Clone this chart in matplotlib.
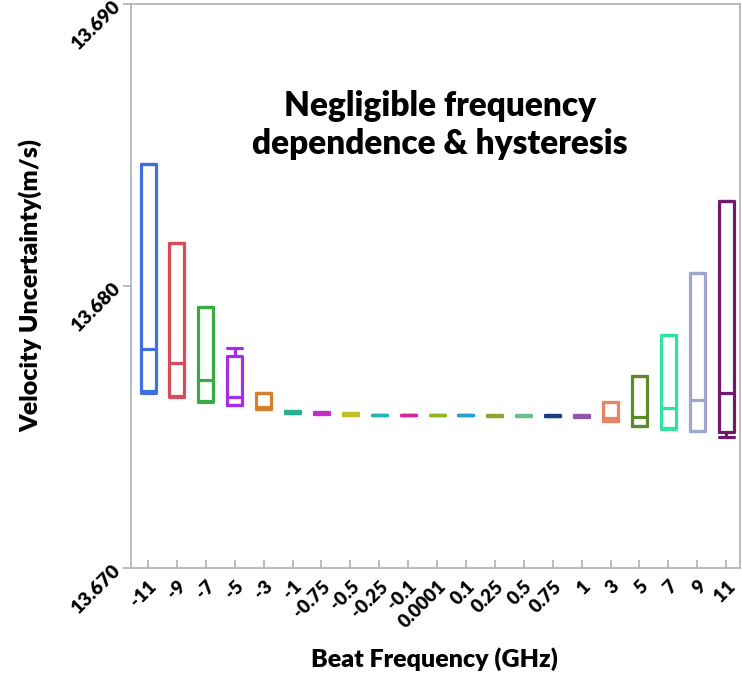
import matplotlib
matplotlib.use('Agg')
import matplotlib.pyplot as plt

# Beat frequencies (GHz) - categorical axis
freq_labels = ['-11', '-9', '-7', '-5', '-3', '-1', '-0.75', '-0.5', '-0.25', '-0.1',
               '0.0001', '0.1', '0.25', '0.5', '0.75', '1', '3', '5', '7', '9', '11']

# box statistics (m/s)
whis_hi = [13.68433, 13.68152, 13.67926, 13.67780, 13.67621, 13.67556, 13.67552, 13.67548,
           13.67543, 13.67543, 13.67543, 13.67543, 13.67542, 13.67542, 13.67542, 13.67541,
           13.67589, 13.67681, 13.67826, 13.68046, 13.68301]
q3 = [13.68433, 13.68152, 13.67926, 13.67752, 13.67621, 13.67556, 13.67552, 13.67548,
      13.67543, 13.67543, 13.67543, 13.67543, 13.67542, 13.67542, 13.67542, 13.67541,
      13.67589, 13.67681, 13.67826, 13.68046, 13.68301]
med = [13.67777, 13.67727, 13.67667, 13.67606, 13.67571, 13.67552, 13.67550, 13.67546,
       13.67543, 13.67543, 13.67543, 13.67543, 13.67540, 13.67540, 13.67540, 13.67538,
       13.67532, 13.67535, 13.67567, 13.67596, 13.67621]
q1 = [13.67628, 13.67610, 13.67592, 13.67578, 13.67564, 13.67549, 13.67547, 13.67544,
      13.67543, 13.67543, 13.67543, 13.67543, 13.67538, 13.67538, 13.67538, 13.67536,
      13.67521, 13.67504, 13.67496, 13.67486, 13.67482]
whis_lo = [13.67621, 13.67606, 13.67590, 13.67578, 13.67564, 13.67549, 13.67547, 13.67544,
           13.67543, 13.67543, 13.67543, 13.67543, 13.67538, 13.67538, 13.67538, 13.67536,
           13.67521, 13.67504, 13.67494, 13.67484, 13.67465]

box_colors = ['#3f6fe0', '#d94a5b', '#3aab44', '#a52ee8', '#d97e2a', '#25b38f', '#c42ec8',
              '#c2be2a', '#26b5b5', '#d6289a', '#96b526', '#2a9fcf', '#8fa533', '#6cc08d',
              '#173f82', '#8f55a6', '#e58466', '#5e8a2a', '#2ee5a0', '#9fa8cc', '#6e1b6e']

plt.rcParams['font.family'] = ['Lato', 'DejaVu Sans']
plt.rcParams['font.weight'] = 'bold'

fig = plt.figure(figsize=(7.42, 6.76), dpi=100)
ax = fig.add_axes([0.1765, 0.1598, 0.8208, 0.8343])

stats = []
for i in range(len(freq_labels)):
    stats.append({'whislo': whis_lo[i], 'q1': q1[i], 'med': med[i],
                  'q3': q3[i], 'whishi': whis_hi[i], 'fliers': [], 'label': freq_labels[i]})

bp = ax.bxp(stats, positions=range(len(freq_labels)), widths=0.52, showfliers=False,
            patch_artist=False, capwidths=0.52)
for i, c in enumerate(box_colors):
    for art in [bp['boxes'][i], bp['medians'][i], bp['whiskers'][2 * i],
                bp['whiskers'][2 * i + 1], bp['caps'][2 * i], bp['caps'][2 * i + 1]]:
        art.set_color(c)
        art.set_linewidth(2.3)
        art.set_solid_capstyle('round')

ax.set_xlim(-0.59, 20.48)
ax.set_ylim(13.670, 13.690)
ax.set_yticks([13.670, 13.680, 13.690])
ax.set_yticklabels(['13.670', '13.680', '13.690'], rotation=45, ha='right', va='center',
                   rotation_mode='anchor', fontsize=14, fontweight='heavy')
ax.set_xticks(range(len(freq_labels)))
ax.set_xticklabels(freq_labels, rotation=45, ha='right', va='top',
                   rotation_mode='anchor', fontsize=13.5, fontweight='heavy')

for s in ax.spines.values():
    s.set_color('#b0b0b0')
    s.set_linewidth(1.2)
ax.tick_params(axis='y', direction='out', length=6, width=1.2, color='#b0b0b0', pad=4)
ax.tick_params(axis='x', direction='in', length=6, width=1.2, color='#b0b0b0', pad=7)

ax.set_xlabel('Beat Frequency (GHz)', fontsize=18, fontweight='heavy')
ax.xaxis.set_label_coords(0.498, -0.140)
ax.set_ylabel('Velocity Uncertainty(m/s)', fontsize=18, fontweight='heavy')
ax.yaxis.set_label_coords(-0.145, 0.5)

ax.text(0.507, 0.785, 'Negligible frequency\ndependence & hysteresis', transform=ax.transAxes,
        ha='center', va='center', fontsize=24, fontweight='heavy', linespacing=1.25)

fig.savefig('out.png', dpi=100)
